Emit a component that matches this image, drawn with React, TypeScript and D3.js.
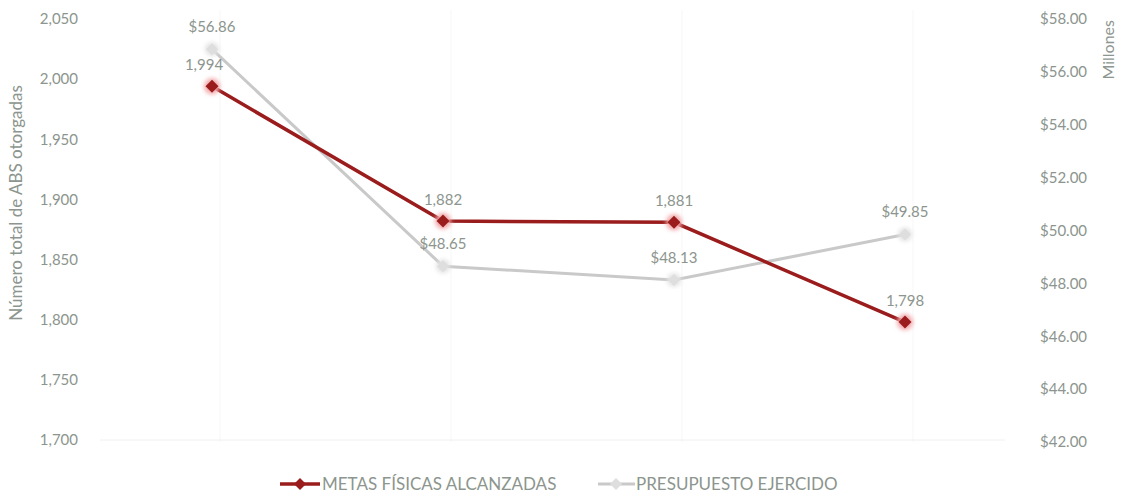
import React from "react";
import * as d3 from "d3";

const categories = ["P1", "P2", "P3", "P4"];
const metasValues = [1994, 1882, 1881, 1798];
const presupuestoValues = [56.86, 48.65, 48.13, 49.85];
const leftTicks = [1700, 1750, 1800, 1850, 1900, 1950, 2000, 2050];
const rightTicks = [42, 44, 46, 48, 50, 52, 54, 56, 58];

const W = 1121;
const H = 498;
const textColor = "#8c958e";
const red = "#9a1c1c";
const gray = "#c9c9c9";
const font = "Lato, 'Open Sans', sans-serif";

const App: React.FC = () => {
  const x = d3.scalePoint<string>().domain(categories).range([212, 905]);
  const yL = d3.scaleLinear().domain([1700, 2050]).range([440, 19]);
  const yR = d3.scaleLinear().domain([42, 58]).range([442, 19]);
  const fmtL = d3.format(",");
  const fmtR = (v: number) => "$" + v.toFixed(2);

  const redLine = d3.line<number>()
    .x((_, i) => x(categories[i])!)
    .y((d) => yL(d));
  const grayLine = d3.line<number>()
    .x((_, i) => x(categories[i])!)
    .y((d) => yR(d));

  const diamond = (cx: number, cy: number, r: number) =>
    `M${cx},${cy - r}L${cx + r},${cy}L${cx},${cy + r}L${cx - r},${cy}Z`;

  return (
    <svg width={W} height={H} style={{ position: "absolute", left: 0, top: 0, background: "#fff" }}
      fontFamily={font}>
      <defs>
        <filter id="glow" x="-50%" y="-50%" width="200%" height="200%">
          <feGaussianBlur stdDeviation="2" />
        </filter>
      </defs>
      {/* faint grid */}
      {categories.map((c) => (
        <line key={c} x1={x(c)! + 8} x2={x(c)! + 8} y1={10} y2={442} stroke="#f7f7f7" strokeWidth={1} />
      ))}
      <line x1={100} x2={1005} y1={yL(1700)} y2={yL(1700)} stroke="#f0f0f0" strokeWidth={1} />

      {/* left axis */}
      {leftTicks.map((t) => (
        <text key={t} x={78} y={yL(t)} dy="0.35em" textAnchor="end" fontSize={15} fill={textColor}>
          {fmtL(t)}
        </text>
      ))}
      <text transform={`translate(22,203) rotate(-90)`} textAnchor="middle" fontSize={17} fill={textColor}>
        Número total de ABS otorgadas
      </text>

      {/* right axis */}
      {rightTicks.map((t) => (
        <text key={t} x={1040} y={yR(t)} dy="0.35em" textAnchor="start" fontSize={15} fill={textColor}>
          {fmtR(t)}
        </text>
      ))}
      <text transform={`translate(1114,20) rotate(-90)`} textAnchor="end" fontSize={16} fill={textColor}>
        Millones
      </text>

      {/* gray series */}
      <path d={grayLine(presupuestoValues)!} fill="none" stroke={gray} strokeWidth={3} />
      {presupuestoValues.map((v, i) => (
        <g key={i}>
          <circle cx={x(categories[i])!} cy={yR(v)} r={7} fill="#e4e4e4" filter="url(#glow)" />
          <path d={diamond(x(categories[i])!, yR(v), 6)} fill="#dedede" />
        </g>
      ))}

      {/* red series */}
      <path d={redLine(metasValues)!} fill="none" stroke={red} strokeWidth={3.5} />
      {metasValues.map((v, i) => (
        <g key={i}>
          <circle cx={x(categories[i])!} cy={yL(v)} r={8} fill="#f2a9ac" filter="url(#glow)" />
          <path d={diamond(x(categories[i])!, yL(v), 6.5)} fill={red} />
        </g>
      ))}

      {/* labels */}
      {metasValues.map((v, i) => (
        <text key={i} x={x(categories[i])! + (i === 0 ? -8 : 0)} y={yL(v) - 16} textAnchor="middle"
          fontSize={15} fill={textColor}>
          {fmtL(v)}
        </text>
      ))}
      {presupuestoValues.map((v, i) => (
        <text key={i} x={x(categories[i])!} y={yR(v) - 17} textAnchor="middle" fontSize={15} fill={textColor}>
          {"$" + v.toFixed(2)}
        </text>
      ))}

      {/* legend */}
      <line x1={280} x2={320} y1={484} y2={484} stroke={red} strokeWidth={3.5} />
      <path d={diamond(300, 484, 6)} fill={red} />
      <text x={322} y={484} dy="0.35em" fontSize={17} fill={textColor}>METAS FÍSICAS ALCANZADAS</text>
      <line x1={598} x2={635} y1={484} y2={484} stroke={gray} strokeWidth={3} />
      <path d={diamond(616, 484, 6)} fill="#dedede" />
      <text x={636} y={484} dy="0.35em" fontSize={17} fill={textColor}>PRESUPUESTO EJERCIDO</text>
    </svg>
  );
};

export default App;
